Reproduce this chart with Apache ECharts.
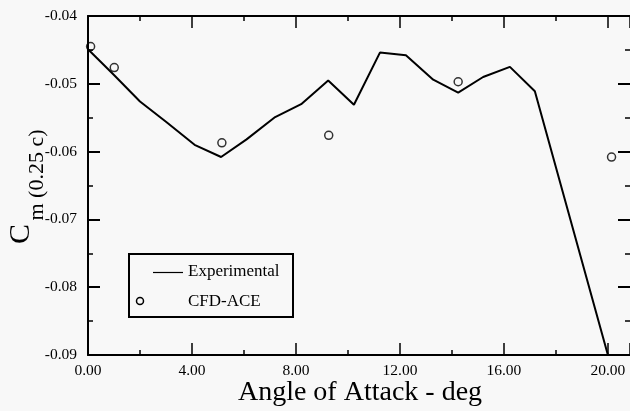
<!DOCTYPE html>
<html>
<head>
<meta charset="utf-8">
<script src="https://cdn.jsdelivr.net/npm/echarts@6/dist/echarts.min.js"></script>
<style>
html,body{margin:0;padding:0;background:#f8f8f8;}
#chart{width:630px;height:411px;}
</style>
</head>
<body>
<div id="chart"></div>
<script>
// Experimental curve
const expAngle = [0, 1, 2, 3, 4.1, 5.12, 6.1, 7.2, 8.2, 9.24, 10.23, 11.23, 12.23, 13.28, 14.24, 15.2, 16.23, 17.19, 20.0];
const expCm    = [-0.0449, -0.0487, -0.0526, -0.0556, -0.0590, -0.0608, -0.0582, -0.0549, -0.0530, -0.0495, -0.0531, -0.0454, -0.0458, -0.0494, -0.0513, -0.0490, -0.0475, -0.0511, -0.0900];
// CFD-ACE points
const cfdAngle = [0.1, 1.01, 5.15, 9.26, 14.24, 20.14];
const cfdCm    = [-0.0445, -0.0476, -0.0587, -0.0576, -0.0497, -0.0608];
// Axis settings
const xTicks = [0, 4, 8, 12, 16, 20];
const yTicks = [-0.09, -0.08, -0.07, -0.06, -0.05, -0.04];
const seriesNames = ['Experimental', 'CFD-ACE'];
const xTitle = 'Angle of Attack - deg';
const yTitleMain = 'C';
const yTitleSub = 'm (0.25 c)';

const FONT = "'Liberation Serif','Times New Roman',serif";

const chart = echarts.init(document.getElementById('chart'), null, {renderer: 'canvas'});

const axisLineStyle = {color: '#000', width: 2};
const xAxisCommon = {
  type: 'value', min: 0, max: 20.85, interval: 4,
  axisLine: {show: true, onZero: false, lineStyle: axisLineStyle},
  axisTick: {show: true, inside: true, length: 12, lineStyle: {color: '#000', width: 1.5}},
  minorTick: {show: true, splitNumber: 2, length: 5, lineStyle: {color: '#000', width: 1.5}},
  splitLine: {show: false}
};
const yAxisCommon = {
  type: 'value', min: -0.09, max: -0.04, interval: 0.01,
  axisLine: {show: true, onZero: false, lineStyle: axisLineStyle},
  axisTick: {show: true, inside: true, length: 12, lineStyle: {color: '#000', width: 2}},
  minorTick: {show: true, splitNumber: 2, length: 5, lineStyle: {color: '#000', width: 1.5}},
  splitLine: {show: false}
};

chart.setOption({
  backgroundColor: '#f8f8f8',
  animation: false,
  grid: {left: 88, top: 16, right: 0, bottom: 56, containLabel: false},
  xAxis: [
    Object.assign({}, xAxisCommon, {
      position: 'bottom',
      axisLabel: {
        show: true, margin: 8, color: '#000', fontFamily: FONT, fontSize: 15.5,
        showMaxLabel: false,
        formatter: v => (xTicks.indexOf(Math.round(v)) >= 0 && Math.abs(v - Math.round(v)) < 1e-6) ? v.toFixed(2) : ''
      }
    }),
    Object.assign({}, xAxisCommon, {position: 'top', axisLabel: {show: false}})
  ],
  yAxis: [
    Object.assign({}, yAxisCommon, {
      position: 'left',
      axisLabel: {
        show: true, margin: 11, color: '#000', fontFamily: FONT, fontSize: 15.5,
        formatter: v => v.toFixed(2)
      }
    }),
    Object.assign({}, yAxisCommon, {
      position: 'right', axisLabel: {show: false},
      axisLine: {show: true, onZero: false, lineStyle: {color: 'rgba(0,0,0,0)', width: 2}},
      axisTick: {show: true, inside: true, length: 12, lineStyle: {color: '#000', width: 2}},
      minorTick: {show: true, splitNumber: 2, length: 5, lineStyle: {color: '#000', width: 1.5}}
    })
  ],
  series: [
    {
      name: seriesNames[0], type: 'line',
      data: expAngle.map((a, i) => [a, expCm[i]]),
      showSymbol: false, symbol: 'none',
      lineStyle: {color: '#000', width: 2},
      clip: true, z: 3
    },
    {
      name: seriesNames[1], type: 'scatter',
      data: cfdAngle.map((a, i) => [a, cfdCm[i]]),
      symbol: 'circle', symbolSize: 8,
      itemStyle: {color: 'rgba(0,0,0,0)', borderColor: '#000', borderWidth: 1.5},
      z: 4
    }
  ],
  graphic: [
    // legend box
    {type: 'rect', shape: {x: 129, y: 254, width: 164, height: 63},
     style: {fill: '#f8f8f8', stroke: '#000', lineWidth: 2}, z: 10},
    {type: 'line', shape: {x1: 153, y1: 272.5, x2: 183, y2: 272.5},
     style: {stroke: '#000', lineWidth: 1.2}, z: 11},
    {type: 'text', x: 188, y: 272, z: 11,
     style: {text: seriesNames[0], font: '17px ' + FONT, fill: '#000', textAlign: 'left', textVerticalAlign: 'middle'}},
    {type: 'circle', shape: {cx: 140, cy: 301, r: 3.5},
     style: {fill: 'none', stroke: '#000', lineWidth: 1.5}, z: 11},
    {type: 'text', x: 188, y: 301.5, z: 11,
     style: {text: seriesNames[1], font: '17px ' + FONT, fill: '#000', textAlign: 'left', textVerticalAlign: 'middle'}},
    // axis titles
    {type: 'text', x: 360, y: 393, z: 11,
     style: {text: xTitle, font: '28px ' + FONT, fill: '#000', textAlign: 'center', textVerticalAlign: 'middle'}},
    {type: 'text', x: 21, y: 234, rotation: Math.PI / 2, z: 11,
     style: {text: yTitleMain, font: '30px ' + FONT, fill: '#000', textAlign: 'center', textVerticalAlign: 'middle'}},
    {type: 'text', x: 37, y: 175, rotation: Math.PI / 2, z: 11,
     style: {text: yTitleSub, font: '22px ' + FONT, fill: '#000', textAlign: 'center', textVerticalAlign: 'middle'}}
  ]
});
</script>
</body>
</html>
